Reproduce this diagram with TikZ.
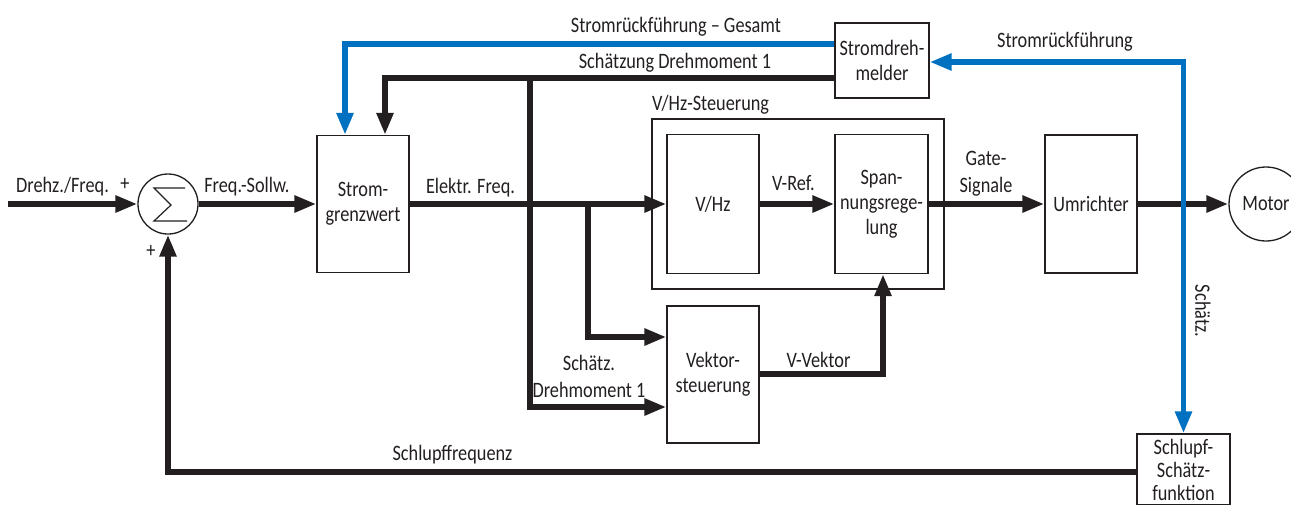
\documentclass[tikz,border=0pt]{standalone}
\usepackage{fontspec}
\setmainfont{Carlito}[FakeStretch=0.83]
\usetikzlibrary{arrows.meta}
\definecolor{ink}{RGB}{35,31,32}
\definecolor{fbblue}{RGB}{0,112,192}
\begin{document}
\begin{tikzpicture}[x=1pt,y=-1pt,
  >={Triangle[length=22pt,width=16pt]},
  txt/.style={font=\fontsize{22}{25}\selectfont, text=ink},
  blk/.style={draw=ink, line width=1.3pt, fill=white, inner sep=0pt, txt, align=center},
  sig/.style={draw=ink, line width=5.5pt, ->},
  fb/.style={draw=fbblue, line width=5.5pt, ->},
  fbboth/.style={draw=fbblue, line width=5.5pt, <->},
  lbl/.style={txt, inner sep=0pt},
  twoline/.style={lbl, align=center, font=\fontsize{22}{27}\selectfont}]
\useasboundingbox (0,0) rectangle (1291,504);

% blocks
\node[blk, fill=none, minimum width=292pt, minimum height=170pt] (vhzctl) at (798,204) {};
\node[blk, circle, minimum size=60pt] (sum) at (168,204) {};
\node[blk, minimum width=92pt, minimum height=137pt] (sg) at (363,204) {Strom-\\grenzwert};
\node[blk, minimum width=94pt, minimum height=75pt] (sdm) at (882,60.5) {Stromdreh-\\melder};
\node[blk, minimum width=92pt, minimum height=139pt] (vhz) at (713,204) {V/Hz};
\node[blk, minimum width=93pt, minimum height=139pt] (spr) at (881.5,204) {Span-\\nungsrege-\\lung};
\node[blk, minimum width=92pt, minimum height=137pt] (vek) at (713,374.5) {Vektor-\\steuerung};
\node[blk, minimum width=92pt, minimum height=138pt] (umr) at (1091,204) {Umrichter};
\node[blk, circle, minimum size=74pt] (mot) at (1266,204) {Motor};
\node[blk, minimum width=93pt, minimum height=71pt, font=\fontsize{22}{23}\selectfont] (slip) at (1183.5,469.5) {Schlupf-\\Schätz-\\funktion};

% summation sign
\draw[ink, line width=1.2pt] ([shift={(17,-16)}]sum.center) -- ([shift={(-14,-16)}]sum.center)
  -- ([shift={(3,1)}]sum.center) -- ([shift={(-14,17)}]sum.center) -- ([shift={(19,17)}]sum.center);

% bend points
\coordinate (src) at (8,204);
\coordinate (tqL) at (385,78);
\coordinate (fbL) at (345,44);
\coordinate (brA) at (530,78);
\coordinate (brAb) at (530,407);
\coordinate (brB) at (588,204);
\coordinate (brBb) at (588,337);
\coordinate (vv) at (883,374);
\coordinate (fbR) at (1183.5,62);
\coordinate (sf) at (168,472);

% forward path
\draw[sig] (src) -- (sum.west);
\draw[sig] (sum.east) -- (sg.west);
\draw[sig] (sg.east) -- (vhz.west);
\draw[sig] (vhz.east) -- (spr.west);
\draw[sig] (spr.east) -- (umr.west);
\draw[sig] (umr.east) -- (mot.west);

% torque estimate and vector path
\draw[sig] (tqL -| sdm.west) -- (tqL) -- (tqL |- sg.north);
\draw[sig] (brA) -- (brAb) -- (brAb -| vek.west);
\draw[sig] (brB) -- (brBb) -- (brBb -| vek.west);
\draw[sig] (vv -| vek.east) -- (vv) -- (vv |- spr.south);
\draw[sig] (sf -| slip.west) -- (sf) -- (sum.south);

% current feedback
\draw[fb] (fbL -| sdm.west) -- (fbL) -- (fbL |- sg.north);
\draw[fbboth] (slip.north) -- (fbR) -- (fbR -| sdm.east);

% labels
\node[lbl, anchor=base west] (lin) at (16,192) {Drehz./Freq.};
\node[lbl] (pa) at (125,184) {+};
\node[lbl] (pb) at (151,251) {+};
\node[lbl, anchor=base] (lsoll) at (247,192) {Freq.-Sollw.};
\node[lbl, anchor=base] (lfreq) at (470.5,193) {Elektr. Freq.};
\node[lbl, anchor=base] (lvref) at (793.5,190) {V-Ref.};
\node[twoline] (lgate) at (986,174) {Gate-\\Signale};
\node[lbl, anchor=base] (lges) at (676,32) {Stromrückführung – Gesamt};
\node[lbl, anchor=base] (ltq) at (675,68) {Schätzung Drehmoment 1};
\node[lbl, anchor=base west] (lvhz) at (652,110) {V/Hz-Steuerung};
\node[lbl, anchor=base] (lsr) at (1065,47) {Stromrückführung};
\node[lbl, anchor=base] (lvv) at (818.5,367) {V-Vektor};
\node[twoline] (ltq2) at (589,376) {Schätz.\\Drehmoment 1};
\node[lbl, anchor=base] (lslip) at (452.5,460) {Schlupffrequenz};
\node[lbl, rotate=-90] (lest) at (1203,311) {Schätz.};
\end{tikzpicture}
\end{document}
